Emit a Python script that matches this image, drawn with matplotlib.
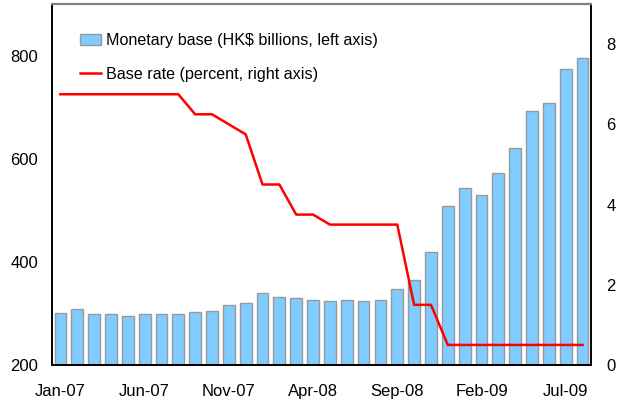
"""Hong Kong monetary base vs. base rate, Jan-07 to Aug-09."""
import matplotlib
matplotlib.use("Agg")
import matplotlib.pyplot as plt

plt.rcParams["font.family"] = ["Liberation Sans", "DejaVu Sans"]

months = [
    "Jan-07", "Feb-07", "Mar-07", "Apr-07", "May-07", "Jun-07", "Jul-07", "Aug-07",
    "Sep-07", "Oct-07", "Nov-07", "Dec-07", "Jan-08", "Feb-08", "Mar-08", "Apr-08",
    "May-08", "Jun-08", "Jul-08", "Aug-08", "Sep-08", "Oct-08", "Nov-08", "Dec-08",
    "Jan-09", "Feb-09", "Mar-09", "Apr-09", "May-09", "Jun-09", "Jul-09", "Aug-09",
]
monetary_base = [
    301, 309, 299, 299, 295, 298, 298, 299,
    303, 305, 317, 321, 340, 332, 329, 327,
    325, 327, 325, 327, 347, 364, 419, 508,
    543, 530, 572, 621, 692, 708, 774, 796,
]
base_rate = [
    6.75, 6.75, 6.75, 6.75, 6.75, 6.75, 6.75, 6.75,
    6.25, 6.25, 6.0, 5.75, 4.5, 4.5, 3.75, 3.75,
    3.5, 3.5, 3.5, 3.5, 3.5, 1.5, 1.5, 0.5,
    0.5, 0.5, 0.5, 0.5, 0.5, 0.5, 0.5, 0.5,
]
tick_every = 5

x = list(range(len(months)))

fig = plt.figure(figsize=(6.18, 4.0), dpi=100)
ax = fig.add_axes([0.0841, 0.0875, 0.8722, 0.9025])
ax2 = ax.twinx()

bars = ax.bar(x, monetary_base, width=0.7, bottom=0, color="#80ccff",
              edgecolor="#999999", linewidth=1.0,
              label="Monetary base (HK$ billions, left axis)")
line, = ax2.plot(x, base_rate, color="#ff0000", linewidth=1.8,
                 label="Base rate (percent, right axis)")

ax.set_xlim(-0.5, len(months) - 0.5)
ax.set_ylim(200, 900)
ax2.set_ylim(0, 9)
ax.set_yticks([200, 400, 600, 800])
ax2.set_yticks([0, 2, 4, 6, 8])
ax.set_xticks(x[::tick_every])
ax.set_xticklabels(months[::tick_every])

ax.tick_params(axis="both", length=0, labelsize=12, colors="black")
ax.tick_params(axis="y", pad=10)
ax.tick_params(axis="x", pad=14)
ax2.tick_params(axis="y", length=0, labelsize=12, pad=11)

for a in (ax, ax2):
    a.spines["top"].set_color("#808080")
    a.spines["top"].set_linewidth(1.5)
    a.spines["left"].set_color("black")
    a.spines["right"].set_color("black")
    a.spines["bottom"].set_color("black")
    a.spines["left"].set_linewidth(1.2)
    a.spines["right"].set_linewidth(1.2)
    a.spines["bottom"].set_linewidth(1.2)

ax2.legend([bars, line], [bars.get_label(), line.get_label()],
           loc="upper left", bbox_to_anchor=(0.04, 0.937), frameon=False,
           fontsize=11.6, handlelength=1.3, handletextpad=0.3,
           labelspacing=1.15, borderaxespad=0)

fig.savefig("out.png", dpi=100)
